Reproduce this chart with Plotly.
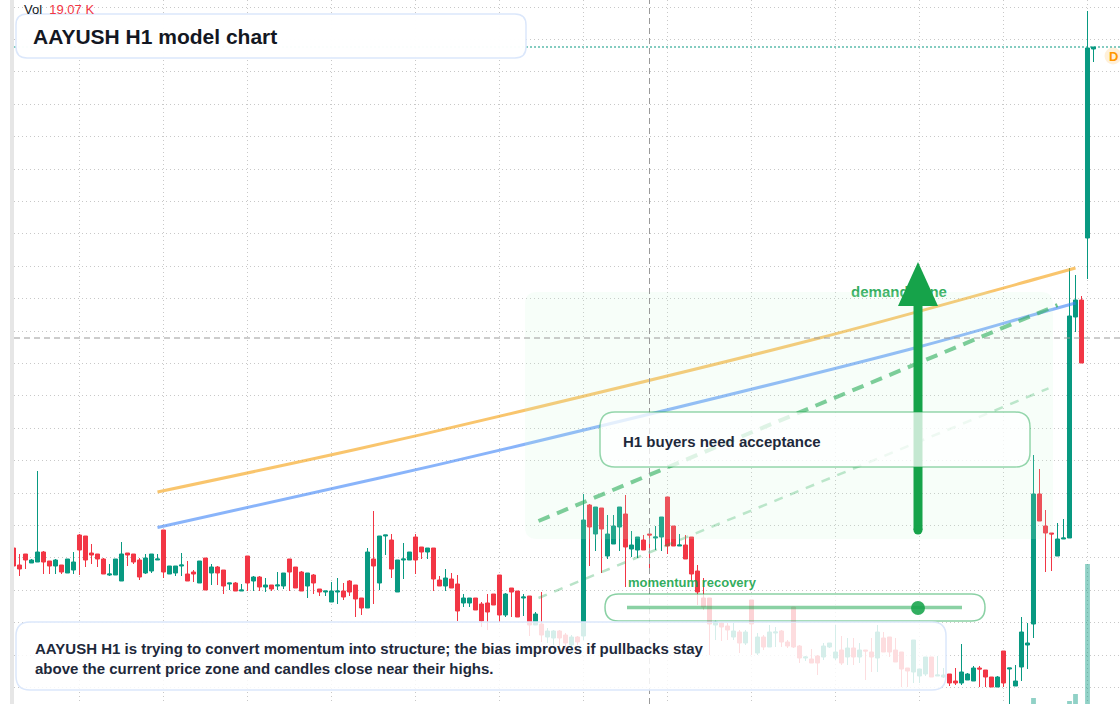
import plotly.graph_objects as go

# ---------------- data ----------------
bar_index = list(range(181))

opens = [20.2, 18.5, 19.6, 18.7, 18.8, 19.8, 18.9, 18.4, 18.5, 17.7,
         18.0, 21.5, 21.4, 19.7, 19.6, 19.1, 17.5, 17.5, 16.9, 19.7,
         19.6, 19.0, 17.7, 17.9, 19.0, 22.0, 17.6, 17.7, 18.4, 17.6,
         17.8, 16.7, 19.2, 17.7, 18.3, 18.0, 16.6, 16.7, 15.9, 19.4,
         16.9, 17.3, 16.3, 16.5, 16.4, 16.4, 19.1, 18.3, 17.8, 16.4,
         17.5, 16.1, 15.8, 14.8, 15.8, 15.9, 16.9, 16.5, 15.2, 14.2,
         19.1, 16.7, 21.4, 21.0, 15.8, 19.0, 19.0, 21.3, 20.3, 19.8,
         20.2, 17.0, 16.4, 17.1, 16.6, 14.7, 14.7, 15.2, 14.6, 14.7,
         15.6, 17.5, 13.5, 16.2, 15.9, 15.2, 15.4, 12.5, 12.6, 11.3,
         11.2, 11.9, 11.5, 10.5, 11.3, 11.4, 24.5, 21.6, 24.2, 19.4,
         20.6, 22.3, 23.6, 20.1, 20.0, 21.0, 21.6, 21.2, 21.3, 25.3,
         22.4, 20.4, 20.5, 21.3, 17.9, 15.2, 15.2, 12.5, 12.7, 12.4,
         11.3, 11.8, 10.7, 15.0, 9.7, 11.3, 10.3, 11.7, 11.9, 10.8,
         14.3, 10.4, 9.2, 9.1, 9.4, 9.3, 10.3, 9.2, 10.0, 9.3,
         10.2, 9.3, 10.0, 9.8, 9.2, 11.2, 11.3, 10.0, 9.8, 8.2,
         7.8, 7.4, 7.6, 9.3, 7.4, 7.3, 7.6, 6.9, 6.7, 7.0,
         6.9, 8.2, 8.0, 7.3, 6.3, 9.9, 8.1, 6.4, 8.3, 10.5,
         12.6, 25.6, 22.4, 21.7, 19.4, 21.1, 21.2, 43.3, 45.0, 51.2,
         70.1]

closes = [18.4, 18.1, 19.0, 19.0, 19.8, 18.8, 18.4, 19.0, 17.8, 19.1,
          18.8, 20.0, 19.0, 19.5, 19.1, 17.6, 17.6, 19.1, 19.6, 19.5,
          18.8, 17.3, 19.2, 19.6, 19.1, 17.8, 18.4, 18.4, 18.5, 16.9,
          17.6, 18.9, 16.0, 18.3, 17.7, 16.4, 16.7, 15.9, 16.0, 16.7,
          17.3, 16.3, 16.5, 16.1, 16.5, 17.7, 17.8, 16.2, 15.9, 17.7,
          16.7, 15.8, 15.9, 15.9, 15.9, 15.3, 15.8, 15.1, 14.2, 19.8,
          18.4, 21.4, 21.5, 18.1, 19.0, 19.1, 19.8, 19.0, 19.8, 20.2,
          17.1, 16.4, 17.2, 16.2, 13.9, 15.2, 15.2, 14.0, 12.9, 13.8,
          14.5, 13.5, 15.6, 15.8, 13.3, 15.3, 12.5, 13.6, 11.5, 11.9,
          11.9, 11.2, 10.7, 11.3, 10.8, 23.0, 22.3, 24.3, 22.1, 21.6,
          22.4, 24.3, 20.3, 20.5, 21.3, 20.0, 21.5, 21.3, 23.3, 20.4,
          20.4, 20.5, 19.1, 17.6, 15.8, 14.3, 12.6, 12.8, 12.3, 12.0,
          11.9, 10.7, 11.8, 12.6, 11.3, 10.3, 11.8, 11.8, 10.8, 10.4,
          10.3, 9.2, 9.3, 8.7, 8.7, 10.4, 10.7, 9.8, 8.7, 10.2,
          9.3, 10.0, 9.9, 9.3, 11.8, 9.8, 9.8, 8.8, 8.1, 7.9,
          11.0, 8.1, 9.3, 7.3, 7.5, 7.5, 6.7, 6.7, 7.8, 7.6,
          8.2, 8.1, 7.3, 6.3, 7.3, 6.7, 8.2, 6.9, 11.8, 10.7,
          25.6, 22.9, 21.7, 21.6, 21.1, 21.2, 43.4, 45.0, 38.7, 70.2,
          70.3]

highs = [20.2, 19.6, 19.6, 19.1, 27.9, 19.9, 18.9, 19.1, 18.5, 19.1,
         19.8, 21.6, 21.4, 20.6, 19.6, 19.2, 18.6, 19.1, 20.8, 19.7,
         19.6, 19.2, 19.6, 19.6, 19.6, 22.0, 18.4, 18.4, 19.7, 18.9,
         18.0, 18.9, 19.2, 18.6, 18.4, 18.0, 16.7, 16.8, 16.6, 19.4,
         17.4, 17.4, 17.2, 16.5, 17.8, 17.7, 19.1, 18.3, 17.9, 17.7,
         17.6, 16.1, 15.9, 16.8, 17.2, 16.7, 17.0, 16.5, 15.2, 20.2,
         23.9, 21.4, 21.5, 21.6, 19.0, 20.7, 19.8, 21.6, 20.3, 20.2,
         20.2, 17.4, 18.1, 17.7, 17.5, 15.6, 15.2, 15.2, 14.8, 15.6,
         15.6, 17.5, 15.7, 16.2, 15.9, 15.6, 15.4, 13.8, 15.8, 12.2,
         12.0, 12.0, 11.7, 11.5, 11.4, 25.6, 24.6, 24.3, 24.2, 23.5,
         23.5, 24.3, 25.5, 21.9, 21.3, 21.5, 22.0, 22.4, 23.3, 25.3,
         22.4, 21.6, 21.5, 21.3, 18.5, 17.2, 15.2, 13.0, 12.8, 12.7,
         12.7, 12.0, 12.0, 15.0, 11.7, 11.5, 12.5, 12.3, 12.0, 11.0,
         14.3, 10.5, 9.4, 10.1, 9.5, 10.7, 10.7, 12.5, 11.4, 11.2,
         11.2, 10.7, 10.0, 11.2, 12.5, 11.8, 11.3, 11.2, 9.8, 8.2,
         11.0, 8.1, 9.3, 9.3, 9.4, 8.2, 7.6, 8.2, 10.6, 7.7,
         8.4, 8.4, 8.0, 7.3, 7.4, 9.9, 8.2, 8.5, 13.3, 12.7,
         29.5, 28.1, 24.0, 21.7, 22.7, 23.1, 48.2, 47.5, 45.4, 73.9,
         70.3]

lows = [18.4, 17.4, 18.1, 18.7, 18.8, 17.6, 17.6, 17.6, 17.6, 17.7,
        17.6, 17.5, 18.3, 18.6, 18.3, 17.6, 17.4, 17.5, 16.9, 18.4,
        18.6, 17.0, 17.6, 17.7, 19.0, 17.2, 17.6, 17.4, 17.4, 16.9,
        16.8, 16.7, 16.0, 16.5, 16.5, 15.6, 16.0, 15.9, 15.9, 15.9,
        15.9, 15.9, 15.8, 15.9, 16.0, 16.1, 15.9, 16.2, 15.9, 15.2,
        15.6, 15.4, 15.4, 14.8, 14.6, 15.0, 15.4, 13.3, 13.5, 14.2,
        14.6, 16.0, 19.5, 17.2, 15.8, 17.1, 19.0, 17.6, 19.1, 19.1,
        15.9, 16.4, 15.9, 16.2, 12.9, 14.3, 14.3, 14.0, 12.3, 12.0,
        14.5, 12.8, 13.3, 13.3, 13.3, 13.4, 11.4, 12.5, 10.8, 10.7,
        10.5, 10.4, 10.0, 10.2, 10.5, 11.0, 18.4, 19.9, 17.7, 19.1,
        20.6, 19.9, 16.3, 19.3, 19.2, 20.0, 18.0, 20.0, 19.9, 19.6,
        20.4, 20.4, 19.1, 17.0, 14.5, 14.0, 9.5, 11.0, 10.9, 11.0,
        11.0, 9.7, 10.5, 9.5, 9.5, 10.0, 10.3, 10.3, 10.3, 10.2,
        10.2, 8.7, 8.9, 8.7, 7.5, 9.0, 10.2, 9.0, 8.5, 8.5,
        8.5, 8.7, 7.0, 7.8, 7.8, 9.8, 9.3, 8.8, 6.3, 6.3,
        6.7, 6.7, 7.4, 7.3, 7.4, 7.2, 6.4, 6.5, 6.5, 7.0,
        6.9, 6.3, 6.3, 6.3, 6.3, 6.3, 4.5, 6.4, 6.9, 8.1,
        11.2, 22.9, 17.8, 17.9, 19.4, 21.1, 21.2, 41.8, 38.7, 47.1,
        68.8]

volumes_k = [6.2, 5.1, 4.8, 3.9, 14.5, 6.0, 4.4, 4.1, 3.8, 5.6,
             5.2, 9.8, 8.1, 4.3, 3.9, 6.4, 3.5, 5.0, 8.7, 3.6,
             3.8, 6.1, 5.4, 5.2, 3.1, 12.4, 3.7, 3.4, 4.6, 4.2,
             3.3, 7.5, 9.6, 4.9, 4.5, 6.8, 3.0, 3.9, 2.9, 7.7,
             4.0, 4.4, 3.6, 3.2, 4.1, 5.3, 6.6, 6.9, 6.2, 5.8,
             4.7, 3.1, 2.8, 4.6, 4.9, 3.8, 4.5, 6.3, 4.8, 15.2,
             13.9, 11.7, 4.2, 8.8, 9.4, 5.5, 3.6, 7.9, 3.4, 3.7,
             9.1, 3.5, 5.7, 4.4, 9.9, 3.9, 3.3, 4.7, 6.1, 6.5,
             4.0, 10.3, 7.2, 5.9, 7.0, 4.8, 9.2, 4.3, 8.0, 4.6,
             4.1, 3.9, 4.5, 3.6, 3.2, 21.8, 12.6, 9.7, 10.4, 8.5,
             6.7, 8.9, 13.1, 4.4, 5.6, 4.9, 6.0, 3.8, 7.4, 12.2,
             6.9, 3.7, 5.8, 10.6, 9.3, 8.1, 11.4, 3.9, 4.2, 3.5,
             4.6, 5.7, 4.8, 9.0, 6.3, 4.5, 5.9, 3.3, 4.9, 2.8,
             10.1, 5.2, 2.6, 3.9, 5.0, 4.7, 2.9, 4.4, 5.6, 4.8,
             4.3, 3.6, 4.0, 5.1, 8.4, 5.3, 4.6, 4.9, 7.3, 3.4,
             9.5, 3.1, 6.2, 6.8, 3.0, 2.7, 4.1, 3.2, 6.4, 2.9,
             4.5, 3.5, 3.9, 4.3, 4.0, 8.6, 5.4, 3.8, 11.9, 6.0,
             35.5, 20.3, 14.8, 9.6, 8.2, 7.1, 29.6, 43.4, 22.6, 300.0,
             19.07]

# overlay lines (bar index, price)
upper_curve_idx = [24, 57, 84, 134, 171, 177]
upper_curve_px = [25.8, 30.05, 33.8, 41.15, 47.2, 48.2]
lower_curve_idx = [24, 61, 84, 151, 171, 177]
lower_curve_px = [22.25, 27.2, 30.4, 40.33, 43.7, 44.7]
channel_top_idx = [87.5, 174]
channel_top_px = [22.9, 44.49]
channel_bottom_idx = [87.5, 172.5]
channel_bottom_px = [15.2, 36.16]

crosshair_idx = 106
crosshair_price = 41.2

title_text = "AAYUSH H1 model chart"
note_text = ("AAYUSH H1 is trying to convert momentum into structure; the bias improves if pullbacks stay"
             "<br>above the current price zone and candles close near their highs.")
box_text = "H1 buyers need acceptance"
pill_label = "momentum recovery"
zone_label = "demand zone"
vol_label = "19.07 K"

# ---------------- styling helpers ----------------
W, H = 1120, 704
ML = 14
PW = W - ML
PH = H
UP = "#089981"
DOWN = "#f23645"
GREEN = "#16a34a"
FONT = "Liberation Sans, Arial, sans-serif"
X0 = (ML - 13.5) / 6.0
X1 = (W - 13.5) / 6.0


def px(x):
    return (x - ML) / PW


def py(y):
    return 1 - y / PH


def idx(xp):
    return (xp - 13.5) / 6.0


def price(yp):
    return 75.0 - yp / 10.0


def rrect_path(x0, y0, x1, y1, r):
    P = lambda x, y: f"{px(x):.5f},{py(y):.5f}"
    return (f"M{P(x0 + r, y0)} L{P(x1 - r, y0)} Q{P(x1, y0)} {P(x1, y0 + r)} "
            f"L{P(x1, y1 - r)} Q{P(x1, y1)} {P(x1 - r, y1)} L{P(x0 + r, y1)} "
            f"Q{P(x0, y1)} {P(x0, y1 - r)} L{P(x0, y0 + r)} Q{P(x0, y0)} {P(x0 + r, y0)} Z")


fig = go.Figure()

vol_colors = ["rgba(8,153,129,0.45)" if c >= o else "rgba(242,54,69,0.45)"
              for o, c in zip(opens, closes)]
fig.add_trace(go.Bar(x=bar_index, y=volumes_k, marker=dict(color=vol_colors, line=dict(width=0)),
                     width=0.8, yaxis="y2", hoverinfo="skip", showlegend=False))

fig.add_trace(go.Candlestick(
    x=bar_index, open=opens, high=highs, low=lows, close=closes,
    increasing=dict(line=dict(color=UP, width=1), fillcolor=UP),
    decreasing=dict(line=dict(color=DOWN, width=1), fillcolor=DOWN),
    whiskerwidth=0, hoverinfo="skip", showlegend=False))

fig.add_trace(go.Scatter(x=upper_curve_idx, y=upper_curve_px, mode="lines",
                         line=dict(color="rgba(245,158,11,0.6)", width=3, shape="spline"),
                         hoverinfo="skip", showlegend=False))
fig.add_trace(go.Scatter(x=lower_curve_idx, y=lower_curve_px, mode="lines",
                         line=dict(color="rgba(59,130,246,0.6)", width=3, shape="spline"),
                         hoverinfo="skip", showlegend=False))
fig.add_trace(go.Scatter(x=channel_top_idx, y=channel_top_px, mode="lines",
                         line=dict(color="rgba(22,163,74,0.62)", width=4, dash="12px,8px"),
                         hoverinfo="skip", showlegend=False))
fig.add_trace(go.Scatter(x=channel_bottom_idx, y=channel_bottom_px, mode="lines",
                         line=dict(color="rgba(22,163,74,0.3)", width=2.5, dash="9px,8px"),
                         hoverinfo="skip", showlegend=False))
fig.add_trace(go.Scatter(x=[idx(899)], y=[price(293)], mode="text", text=[f"<b>{zone_label}</b>"],
                         textposition="middle center",
                         textfont=dict(family=FONT, size=15, color="rgba(22,163,74,0.9)"),
                         hoverinfo="skip", showlegend=False))

shapes = []
# left strip
shapes.append(dict(type="rect", xref="paper", yref="paper", x0=px(10), x1=px(14), y0=0, y1=1,
                   fillcolor="#e6e6e6", line=dict(width=0), layer="above"))
# demand zone
shapes.append(dict(type="path", xref="paper", yref="paper", path=rrect_path(525, 292, 1053, 539, 12),
                   fillcolor="rgba(200,245,215,0.15)", line=dict(width=0), layer="above"))
# crosshair
shapes.append(dict(type="line", xref="x", yref="paper", x0=crosshair_idx, x1=crosshair_idx, y0=0, y1=1,
                   line=dict(color="#9a9a9a", width=1, dash="6px,4px"), layer="above"))
shapes.append(dict(type="line", xref="paper", yref="y", x0=0, x1=1, y0=crosshair_price, y1=crosshair_price,
                   line=dict(color="#9a9a9a", width=1, dash="6px,4px"), layer="above"))
# last price line
shapes.append(dict(type="line", xref="paper", yref="y", x0=0, x1=1, y0=closes[-1], y1=closes[-1],
                   line=dict(color=UP, width=1, dash="2px,2px"), layer="above"))
# arrow
shapes.append(dict(type="line", xref="paper", yref="paper", x0=px(918), x1=px(918), y0=py(530), y1=py(300),
                   line=dict(color=GREEN, width=9), layer="above"))
shapes.append(dict(type="circle", xref="paper", yref="paper", x0=px(913.5), x1=px(922.5),
                   y0=py(525.5), y1=py(534.5), fillcolor=GREEN, line=dict(width=0), layer="above"))
shapes.append(dict(type="path", xref="paper", yref="paper",
                   path=f"M{px(898):.5f},{py(306):.5f} L{px(918):.5f},{py(262):.5f} L{px(938):.5f},{py(306):.5f} Z",
                   fillcolor=GREEN, line=dict(width=0), layer="above"))
# H1 box
shapes.append(dict(type="path", xref="paper", yref="paper", path=rrect_path(600, 412, 1030, 467, 15),
                   fillcolor="rgba(255,255,255,0.75)", line=dict(color="rgba(22,163,74,0.45)", width=1.5),
                   layer="above"))
# momentum pill
shapes.append(dict(type="path", xref="paper", yref="paper", path=rrect_path(605, 594, 985, 621, 13.5),
                   fillcolor="rgba(255,255,255,0.78)", line=dict(color="rgba(22,163,74,0.5)", width=1.5),
                   layer="above"))
shapes.append(dict(type="line", xref="paper", yref="paper", x0=px(627), x1=px(962), y0=py(607.5), y1=py(607.5),
                   line=dict(color="rgba(22,163,74,0.5)", width=3.5), layer="above"))
shapes.append(dict(type="circle", xref="paper", yref="paper", x0=px(911), x1=px(925), y0=py(601), y1=py(615),
                   fillcolor="rgba(22,163,74,0.88)", line=dict(width=0), layer="above"))
# bottom note box
shapes.append(dict(type="path", xref="paper", yref="paper", path=rrect_path(16, 622, 946, 690, 14),
                   fillcolor="rgba(255,255,255,0.83)", line=dict(color="#dbe7fb", width=1.5), layer="above"))
# title box
shapes.append(dict(type="path", xref="paper", yref="paper", path=rrect_path(16, 14, 526, 58, 11),
                   fillcolor="rgba(255,255,255,0.97)", line=dict(color="#dbe7fb", width=1.5), layer="above"))
# D badge
shapes.append(dict(type="circle", xref="paper", yref="paper", x0=px(1104.5), x1=px(1121.5), y0=py(47.5), y1=py(64.5),
                   fillcolor="rgba(255,152,0,0.15)", line=dict(width=0), layer="above"))

annotations = [
    dict(xref="paper", yref="paper", x=px(22), y=py(9), xanchor="left", yanchor="middle", showarrow=False,
         text=f"Vol&nbsp;&nbsp;<span style='color:{DOWN}'>{vol_label}</span>",
         font=dict(family=FONT, size=13, color="#131722")),
    dict(xref="paper", yref="paper", x=px(31), y=py(36), xanchor="left", yanchor="middle", showarrow=False,
         text=f"<b>{title_text}</b>", font=dict(family=FONT, size=21, color="#131722")),
    dict(xref="paper", yref="paper", x=px(33), y=py(658), xanchor="left", yanchor="middle", showarrow=False,
         align="left", text=f"<b>{note_text}</b>", font=dict(family=FONT, size=15, color="#1e293b")),
    dict(xref="paper", yref="paper", x=px(621), y=py(441.5), xanchor="left", yanchor="middle", showarrow=False,
         text=f"<b>{box_text}</b>", font=dict(family=FONT, size=15, color="#1e293b")),
    dict(xref="paper", yref="paper", x=px(626), y=py(582.5), xanchor="left", yanchor="middle", showarrow=False,
         text=f"<b>{pill_label}</b>", font=dict(family=FONT, size=13, color="rgba(22,163,74,0.9)")),
    dict(xref="paper", yref="paper", x=px(1113), y=py(56), xanchor="center", yanchor="middle", showarrow=False,
         text="<b>D</b>", font=dict(family=FONT, size=13, color="#ff9800")),
]

fig.update_layout(
    width=W, height=H, autosize=False,
    margin=dict(l=ML, r=0, t=0, b=0, pad=0),
    paper_bgcolor="white", plot_bgcolor="white",
    showlegend=False,
    boxgap=0.33, boxgroupgap=0,
    xaxis=dict(range=[X0, X1], showgrid=True, gridcolor="#c8c8c8", griddash="1px,3px", gridwidth=1,
               tick0=11, dtick=14, showticklabels=False, zeroline=False, showline=False, ticks="",
               rangeslider=dict(visible=False), fixedrange=True),
    yaxis=dict(range=[price(704), price(0)], showgrid=True, gridcolor="#c8c8c8", griddash="1px,3px",
               gridwidth=1, tick0=price(7), dtick=3.24, showticklabels=False, zeroline=False,
               showline=False, ticks="", fixedrange=True),
    yaxis2=dict(overlaying="y", range=[23.7, 1413.2], visible=False, fixedrange=True),
    shapes=shapes,
    annotations=annotations,
    hovermode=False,
)

fig.write_html("out.html", config={"displayModeBar": False},
               post_script="document.body.style.margin='0px';document.body.style.padding='0px';"
                           "document.body.style.overflow='hidden';")
